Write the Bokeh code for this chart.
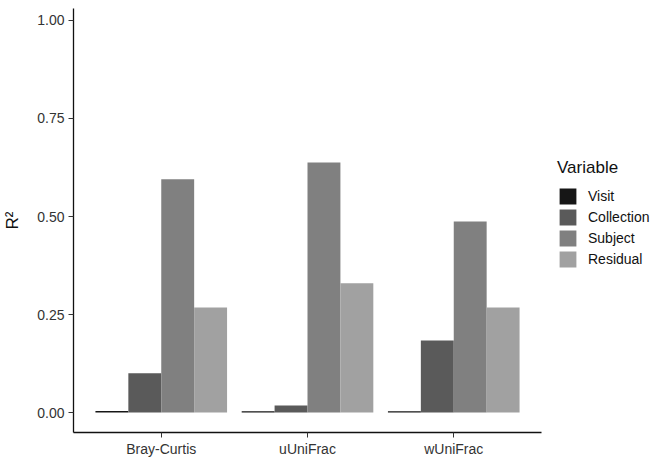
from bokeh.plotting import figure
from bokeh.models import ColumnDataSource, FactorRange, Range1d, Legend, LegendItem, FixedTicker
from bokeh.transform import dodge
from bokeh.embed import file_html
from bokeh.resources import INLINE

metrics = ["Bray-Curtis", "uUniFrac", "wUniFrac"]
variables = ["Visit", "Collection", "Subject", "Residual"]
visit = [0.004, 0.003, 0.003]
collection = [0.100, 0.018, 0.184]
subject = [0.595, 0.638, 0.487]
residual = [0.268, 0.330, 0.268]
y_ticks = [0.0, 0.25, 0.5, 0.75, 1.0]
colors = ["#161616", "#5a5a5a", "#808080", "#a1a1a1"]

FONT = "Liberation Sans"

source = ColumnDataSource(data=dict(metric=metrics, Visit=visit, Collection=collection,
                                    Subject=subject, Residual=residual))

p = figure(x_range=FactorRange(factors=metrics, range_padding=0.2 / 3),
           y_range=Range1d(-0.051, 1.0306),
           frame_width=468, frame_height=424, output_backend="svg", toolbar_location=None,
           min_border_left=64, min_border_right=0, min_border_top=8, min_border_bottom=0)

bw = 0.9 / 4
offsets = [-1.5 * bw, -0.5 * bw, 0.5 * bw, 1.5 * bw]
renderers = []
for var, off, col in zip(variables, offsets, colors):
    r = p.vbar(x=dodge("metric", off, range=p.x_range), top=var, bottom=0, width=bw,
               source=source, fill_color=col, line_color=None)
    renderers.append(r)

p.xgrid.visible = False
p.ygrid.visible = False
p.outline_line_color = None
p.background_fill_color = "white"

p.yaxis.ticker = FixedTicker(ticks=y_ticks)
p.yaxis.major_label_overrides = {0.0: "0.00", 0.25: "0.25", 0.5: "0.50", 0.75: "0.75", 1.0: "1.00"}
p.yaxis.axis_label = "R²"
p.yaxis.axis_label_text_font = FONT
p.yaxis.axis_label_text_font_size = "17px"
p.yaxis.axis_label_text_font_style = "normal"
p.yaxis.axis_label_text_color = "#111111"
p.yaxis.axis_label_standoff = 12

for ax in (p.xaxis, p.yaxis):
    ax.axis_line_color = "#111111"
    ax.axis_line_width = 1.3
    ax.major_tick_line_color = "#333333"
    ax.major_tick_out = 5
    ax.major_tick_in = 0
    ax.minor_tick_out = 0
    ax.minor_tick_in = 0
    ax.major_label_text_font = FONT
    ax.major_label_text_font_size = "14px"
    ax.major_label_text_color = "#333333"
p.xaxis.major_label_standoff = 3
p.yaxis.major_label_standoff = 4

legend = Legend(items=[LegendItem(label=v, renderers=[r]) for v, r in zip(variables, renderers)],
                title="Variable", location=(16, 163))
legend.title_text_font = FONT
legend.title_text_font_size = "17px"
legend.title_text_font_style = "normal"
legend.title_text_color = "#111111"
legend.title_standoff = 8
legend.label_text_font = FONT
legend.label_text_font_size = "14px"
legend.label_text_color = "#111111"
legend.glyph_width = 21
legend.glyph_height = 20
legend.label_height = 20
legend.spacing = 1
legend.label_standoff = 10
legend.border_line_color = None
legend.background_fill_alpha = 0
legend.padding = 0
legend.margin = 0
legend.title_location = "above"
p.add_layout(legend, "right")

open("out.html", "w").write(file_html(p, INLINE))
